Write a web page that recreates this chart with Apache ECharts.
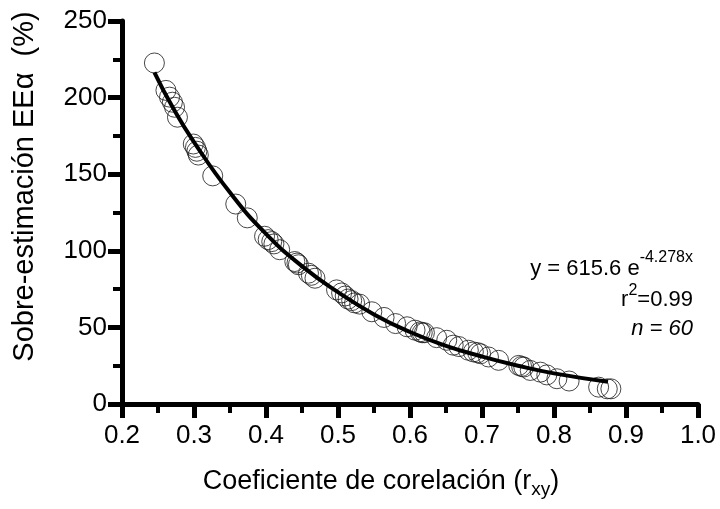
<!DOCTYPE html>
<html>
<head>
<meta charset="utf-8">
<script src="https://cdn.jsdelivr.net/npm/echarts@6/dist/echarts.min.js"></script>
<style>
  html, body { margin: 0; padding: 0; background: #fff; }
  #chart { width: 720px; height: 509px; }
</style>
</head>
<body>
<div id="chart"></div>
<script>
// puntos medidos (r_xy, sobre-estimación %)
const rxy = [0.245, 0.261, 0.266, 0.270, 0.273, 0.277, 0.299, 0.302, 0.304, 0.306,
  0.326, 0.358, 0.374, 0.398, 0.403, 0.408, 0.411, 0.419, 0.440, 0.443,
  0.445, 0.459, 0.463, 0.468, 0.498, 0.505, 0.510, 0.514, 0.519, 0.523,
  0.530, 0.547, 0.564, 0.580, 0.596, 0.607, 0.614, 0.617, 0.620, 0.637,
  0.651, 0.660, 0.668, 0.681, 0.688, 0.694, 0.698, 0.709, 0.723, 0.751,
  0.755, 0.758, 0.767, 0.781, 0.790, 0.804, 0.821, 0.862, 0.874, 0.879];
const sobreEst = [222.6, 204.7, 200.3, 197.0, 193.7, 187.2, 169.7, 167.5, 165.0, 162.5,
  148.9, 130.5, 121.5, 109.5, 107.3, 106.0, 104.5, 100.7, 93.0, 92.0,
  90.9, 85.4, 84.0, 82.1, 74.5, 72.5, 70.5, 68.5, 67.5, 66.0,
  65.2, 60.2, 56.5, 52.5, 50.4, 48.2, 47.1, 46.5, 46.5, 43.3,
  41.6, 38.4, 37.5, 35.1, 34.0, 33.5, 32.8, 30.7, 28.5, 25.2,
  24.5, 24.1, 21.9, 20.8, 19.0, 16.5, 15.0, 11.0, 9.9, 9.9];

// curva de ajuste
const curvaX = [0.245, 0.27, 0.30, 0.35, 0.40, 0.45, 0.50, 0.55, 0.60, 0.65, 0.70, 0.75, 0.80, 0.875];
const curvaY = [216.5, 194, 171, 138, 111, 90, 73, 58.5, 47, 38, 31, 25, 20, 14.5];

const xTicks = [0.2, 0.3, 0.4, 0.5, 0.6, 0.7, 0.8, 0.9, 1.0];
const yTicks = [0, 50, 100, 150, 200, 250];

const font = "'Liberation Sans', Arial, Helvetica, sans-serif";

let chart = echarts.init(document.getElementById("chart"));
chart.setOption({
  animation: false,
  backgroundColor: "#fff",
  grid: {
    left: 122,
    right: 22,
    top: 21,
    bottom: 105,
  },
  xAxis: {
    type: "value",
    min: xTicks[0],
    max: xTicks[xTicks.length - 1],
    interval: 0.1,
    name: "Coeficiente de corelación ({s|r}{sub|xy}{s|)}",
    nameLocation: "middle",
    nameGap: 61,
    nameTextStyle: {
      color: "#000",
      fontFamily: font,
      fontSize: 27,
      padding: [0, 58, 0, 0],
      rich: {
        s: { fontSize: 27, fontFamily: font, color: "#000" },
        sub: { fontSize: 19, fontFamily: font, color: "#000", padding: [15, 0, 0, 0] },
      },
    },
    axisLine: { show: true, onZero: false, lineStyle: { color: "#000", width: 5 } },
    axisTick: { show: true, length: 14, lineStyle: { color: "#000", width: 5 } },
    minorTick: { show: true, splitNumber: 2, length: 9, lineStyle: { color: "#000", width: 4 } },
    splitLine: { show: false },
    axisLabel: {
      color: "#000",
      fontFamily: font,
      fontSize: 26,
      margin: 19,
      formatter: (v) => v.toFixed(1),
    },
  },
  yAxis: {
    type: "value",
    min: yTicks[0],
    max: yTicks[yTicks.length - 1],
    interval: 50,
    name: "Sobre-estimación EEα  (%)",
    nameLocation: "middle",
    nameGap: 83,
    nameTextStyle: {
      color: "#000",
      fontFamily: font,
      fontSize: 29,
      padding: [0, 0, 0, 52],
    },
    axisLine: { show: true, onZero: false, lineStyle: { color: "#000", width: 5 } },
    axisTick: { show: true, length: 14, lineStyle: { color: "#000", width: 5 } },
    minorTick: { show: true, splitNumber: 2, length: 9, lineStyle: { color: "#000", width: 4 } },
    splitLine: { show: false },
    axisLabel: {
      color: "#000",
      fontFamily: font,
      fontSize: 26,
      margin: 15,
    },
  },
  graphic: [
    {
      type: "text",
      right: 27,
      top: 250,
      style: {
        text: "{t|y = 615.6 e}{sup|-4.278x}",
        align: "right",
        rich: {
          t: { fontSize: 22, fontFamily: font, fill: "#000", padding: [8, 0, 0, 0] },
          sup: { fontSize: 16, fontFamily: font, fill: "#000", verticalAlign: "top" },
        },
      },
    },
    {
      type: "text",
      right: 27,
      top: 283,
      style: {
        text: "{t|r}{sup|2}{t|=0.99}",
        align: "right",
        rich: {
          t: { fontSize: 22, fontFamily: font, fill: "#000", padding: [6, 0, 0, 0] },
          sup: { fontSize: 16, fontFamily: font, fill: "#000", verticalAlign: "top" },
        },
      },
    },
    {
      type: "text",
      right: 27,
      top: 318,
      style: {
        text: "n = 60",
        font: "italic 22px " + font,
        fill: "#000",
        align: "right",
      },
    },
  ],
  series: [
    {
      name: "datos",
      type: "scatter",
      symbol: "circle",
      symbolSize: 20,
      data: rxy.map((x, i) => [x, sobreEst[i]]),
      itemStyle: {
        color: "rgba(255,255,255,0)",
        borderColor: "#1a1a1a",
        borderWidth: 1,
      },
      z: 2,
    },
    {
      name: "ajuste",
      type: "line",
      smooth: true,
      showSymbol: false,
      data: curvaX.map((x, i) => [x, curvaY[i]]),
      lineStyle: { color: "#000", width: 4 },
      z: 3,
    },
  ],
});
window.onresize = function () {
  chart.resize();
};
</script>
</body>
</html>
